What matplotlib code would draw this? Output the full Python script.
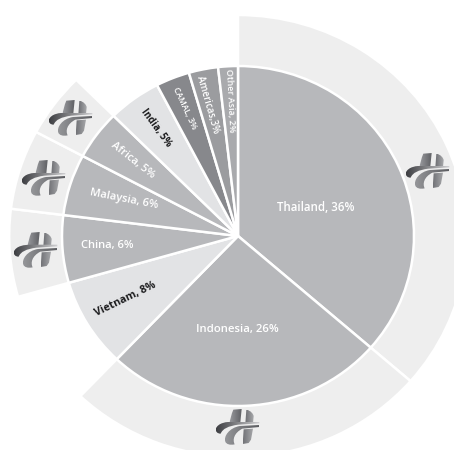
import numpy as np
import matplotlib
matplotlib.use('Agg')
import matplotlib.pyplot as plt
from matplotlib.path import Path
from matplotlib.patches import PathPatch

plt.rcParams['font.family'] = ['Open Sans', 'DejaVu Sans']

regions = ['Thailand', 'Indonesia', 'Vietnam', 'China', 'Malaysia',
           'Africa', 'India', 'CAMAL', 'Americas', 'Other Asia']
shares = [36.4, 25.7, 8.46, 6.41, 5.83, 4.7, 4.89, 3.11, 2.69, 1.81]
colors = ['#b7b8bb', '#b7b8bb', '#e2e3e5', '#b7b8bb', '#b7b8bb',
          '#b7b8bb', '#e2e3e5', '#87888c', '#9b9c9f', '#a9aaad']
# regions that get a logo band outside the pie
with_logo = ['Thailand', 'Indonesia', 'China', 'Malaysia', 'Africa']
label_texts = ['Thailand, 36%', 'Indonesia, 26%', 'Vietnam, 8%', 'China, 6%',
               'Malaysia, 6%', 'Africa, 5%', 'India, 5%', 'CAMAL, 3%',
               'Americas,3%', 'Other Asia, 2%']

W, H = 454, 450
CX, CY, SX, SY = 238, 236, 176, 170


def px(x, y):
    """pixel position -> data coordinates of the pie axes"""
    return (x - CX) / SX, (CY - y) / SY


fig = plt.figure(figsize=(W / 100, H / 100), dpi=100)
ax = fig.add_axes([0, 0, 1, 1])

# outer band
outer, _ = ax.pie(shares, radius=1.3, startangle=90, counterclock=False,
                  colors=['#eeeeee'] * len(shares),
                  wedgeprops={'edgecolor': 'white', 'linewidth': 1.8})
for w, name in zip(outer, regions):
    w.set_visible(name in with_logo)

# main pie
ax.pie(shares, radius=1.0, startangle=90, counterclock=False, colors=colors,
       wedgeprops={'edgecolor': 'white', 'linewidth': 1.8})

# label position in pixels, rotation, size, colour
label_x = [316, 237, 125, 107, 124, 133, 156, 185, 208, 230]
label_y = [207, 329, 299, 245, 199, 160, 128, 108, 105, 101]
label_rot = [0, 0, 26, 0, -11, -38, -54, -65, -74, -87]
label_size = [8.3, 8.2, 7.7, 8.0, 8.0, 7.8, 7.0, 6.1, 6.9, 6.5]
label_col = ['white', 'white', '#1c1c1e', 'white', 'white', 'white',
             '#1c1c1e', 'white', 'white', 'white']
for t, x, y, r, s, c in zip(label_texts, label_x, label_y, label_rot, label_size, label_col):
    tx, ty = px(x, y)
    fw = 'semibold' if c == 'white' else 'bold'
    ax.text(tx, ty, t, color=c, rotation=r, rotation_mode='anchor',
            ha='center', va='center', fontsize=s, fontweight=fw)

# logo outlines, pixels relative to the logo centre (x3 scale)
M, L, C, Z = Path.MOVETO, Path.LINETO, Path.CURVE4, Path.CLOSEPOLY
logo_shapes = [
    # left stem
    ([(-14, -52), (11, -54), (7, -14), (-26, -8), (-24, -22), (-20, -38), (-14, -52), (-14, -52)],
     [M, L, L, L, C, C, C, Z], '#9a9b9f', '#5f6064'),
    # right stem
    ([(25, -52), (38, -50), (47, -38), (47, -32), (45, -12), (22, -10), (25, -52)],
     [M, C, C, C, L, L, Z], '#6c6d71', '#a9aaad'),
    # sweep across the middle
    ([(-67, 6), (-60, -13), (-34, -16), (-14, -16), (64, -16), (64, -11), (1, -7),
      (-29, -3), (-46, 5), (-52, 20), (-62, 20), (-67, 14), (-67, 6), (-67, 6)],
     [M, C, C, C, L, L, L, C, C, C, C, C, C, Z], '#3f4044', '#cfcfd1'),
    # lower crescent
    ([(64, -6), (6, -3), (-26, 2), (-44, 28), (-38, 44), (-35, 52), (-24, 55), (-10, 52),
      (-17, 38), (-12, 18), (13, 5), (64, 0), (64, -6), (64, -6)],
     [M, L, C, C, C, C, C, C, C, C, C, L, L, Z], '#98999c', '#5c5d61'),
    # lower stem
    ([(17, 7), (45, 5), (39, 38), (32, 48), (14, 51)],
     [M, L, L, L, L], '#737478', '#a9aaad'),
]
logo_x = [428, 238, 36, 44, 71]
logo_y = [171, 427, 250, 178, 118]

for lx, ly in zip(logo_x, logo_y):
    for verts, codes, c0, c1 in logo_shapes:
        v = np.array([px(lx + a / 3, ly + b / 3) for a, b in verts])
        patch = PathPatch(Path(v, codes), facecolor='none', edgecolor='none')
        ax.add_patch(patch)
        c0_rgb = np.array(matplotlib.colors.to_rgb(c0))
        c1_rgb = np.array(matplotlib.colors.to_rgb(c1))
        grad = np.linspace(0, 1, 32)[None, :, None]
        img = c0_rgb[None, None, :] * (1 - grad) + c1_rgb[None, None, :] * grad
        ext = (v[:, 0].min(), v[:, 0].max(), v[:, 1].min(), v[:, 1].max())
        im = ax.imshow(img, extent=ext, aspect='auto', interpolation='bilinear', zorder=3)
        im.set_clip_path(patch)

ax.set_aspect('auto')
x0, y0 = px(0, H)
x1, y1 = px(W, 0)
ax.set_xlim(x0, x1)
ax.set_ylim(y0, y1)
ax.axis('off')

fig.savefig('out.png', dpi=100, facecolor='white')
